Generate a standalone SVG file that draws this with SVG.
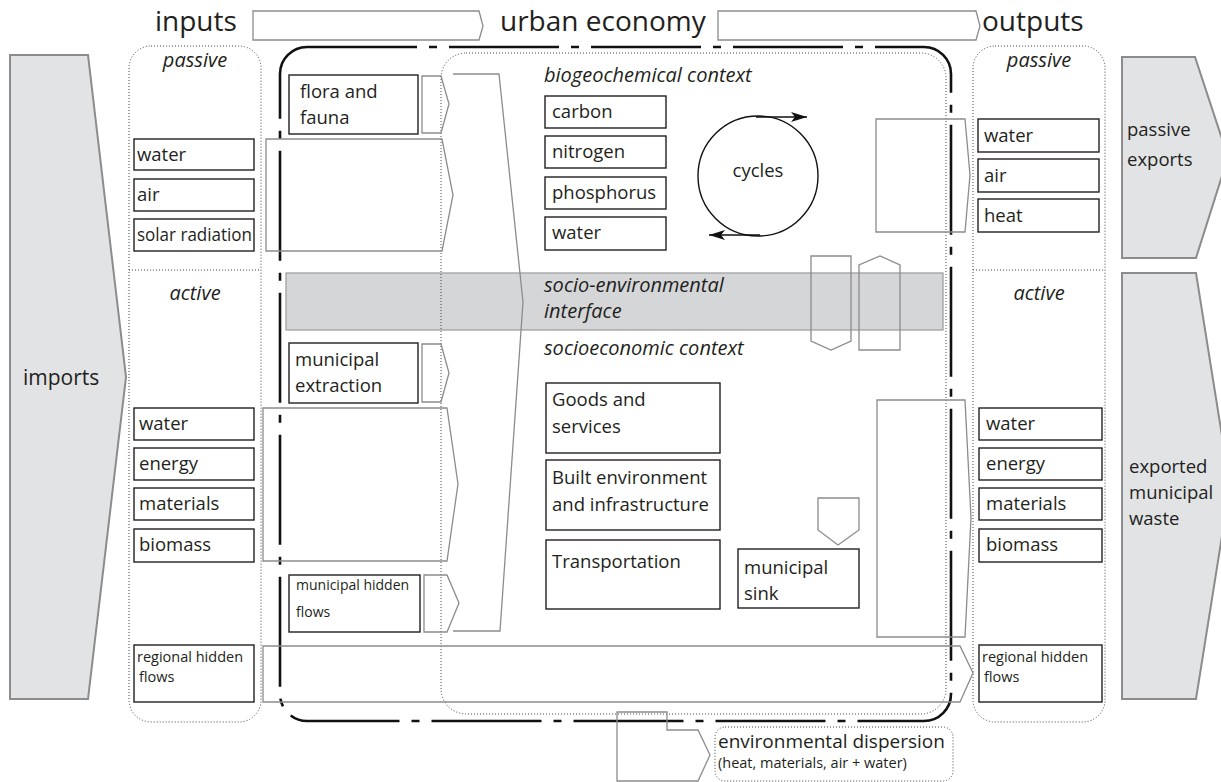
<svg xmlns="http://www.w3.org/2000/svg" width="1221" height="782" viewBox="0 0 1221 782">
<style>
.t{font-family:"Open Sans","Liberation Sans",sans-serif;fill:#231f20}
.b{font-size:18.5px}
.s{font-size:14px}
.r{font-size:14.5px}
.i{font-style:italic;font-size:20px}
.h{font-size:28px}
.box{fill:#fff;stroke:#231f20;stroke-width:1.4}
.flow{fill:none;stroke:#8c8c8c;stroke-width:1.3}
.big{fill:#e2e3e5;stroke:#8c8c8c;stroke-width:2}
.dot{fill:none;stroke:#444;stroke-width:1;stroke-dasharray:1 2}
.dd{fill:none;stroke:#111;stroke-width:2.6;stroke-dasharray:110 12 8 12}
.band{fill:#d5d6d8;stroke:#a0a0a0;stroke-width:1.3}
.cyc{fill:none;stroke:#111;stroke-width:1.4}
</style>
<defs>
<marker id="ah" viewBox="0 0 16 10" refX="16" refY="5" markerWidth="16" markerHeight="10" markerUnits="userSpaceOnUse" orient="auto">
<path d="M0,0 L16,5 L0,10 L4,5 z" fill="#111"/>
</marker>
</defs>
<rect width="1221" height="782" fill="#fff"/>

<!-- headers -->
<g id="header">
<text class="t h" x="155" y="31">inputs</text>
<polygon class="flow" points="253,11 479,11 483,26 479,40 253,40"/>
<text class="t h" x="500" y="31">urban economy</text>
<polygon class="flow" points="718,11 976,11 980,26 976,40 718,40"/>
<text class="t h" x="982" y="31">outputs</text>
</g>

<!-- big side arrows -->
<g id="imports">
<polygon class="big" points="10,55 88,55 126,377 88,699 10,699"/>
<text class="t" font-size="21" x="23" y="385">imports</text>
</g>
<g id="passive-exports">
<polygon class="big" points="1122,57 1195,57 1228,157 1196,258 1122,258"/>
<text class="t b" x="1127" y="136">passive</text>
<text class="t b" x="1127" y="166">exports</text>
</g>
<g id="exported-waste">
<polygon class="big" points="1122,273 1196,273 1230,486 1196,699 1122,699"/>
<text class="t b" x="1129" y="473">exported</text>
<text class="t b" x="1129" y="499">municipal</text>
<text class="t b" x="1129" y="525">waste</text>
</g>

<!-- interface band -->
<g id="interface">
<rect class="band" x="286" y="273" width="657" height="57"/>
<text class="t i" x="544" y="292">socio-environmental</text>
<text class="t i" x="544" y="318">interface</text>
</g>

<!-- containers -->
<g id="inputs-column">
<rect class="dot" x="129" y="46" width="132" height="676" rx="22"/>
<line class="dot" x1="129" y1="270" x2="261" y2="270"/>
<text class="t i" x="195" y="67" text-anchor="middle">passive</text>
<text class="t i" x="195" y="300" text-anchor="middle">active</text>
</g>
<g id="outputs-column">
<rect class="dot" x="973" y="46" width="132" height="676" rx="22"/>
<line class="dot" x1="973" y1="270" x2="1105" y2="270"/>
<text class="t i" x="1039" y="67" text-anchor="middle">passive</text>
<text class="t i" x="1039" y="300" text-anchor="middle">active</text>
</g>
<g id="urban-area">
<rect class="dot" x="441" y="53" width="505" height="661" rx="25"/>
<text class="t i" x="544" y="82">biogeochemical context</text>
<text class="t i" x="544" y="355">socioeconomic context</text>
</g>
<g id="urban-economy">
<rect class="dd" x="280" y="47" width="671" height="674" rx="27"/>
</g>

<!-- connectors / flows -->
<g id="connectors">
<polygon class="flow" points="422,76 441,76 449,104 441,133 422,133"/>
<polygon class="flow" points="266,139 442,139 453,195 442,251 266,251"/>
<polygon class="flow" points="422,344 441,344 449,373 441,402 422,402"/>
<polygon class="flow" points="263,408 447,408 458,484 447,561 263,561"/>
<polygon class="flow" points="424,575 447,575 459,603 447,632 424,632"/>
<polyline class="flow" points="453,74 499,74 523,302 500,631 453,631"/>
<polygon class="flow" points="263,646 960,646 973,673 960,702 263,702"/>
<polygon class="flow" points="876,119 965,119 970,175 965,232 876,232"/>
<polygon class="flow" points="877,400 965,400 971,518 965,637 877,637"/>
<polygon class="flow" points="811,256 851,256 851,341 831,350 811,341"/>
<polygon class="flow" points="859,350 900,350 900,265 880,256 859,265"/>
<polygon class="flow" points="818,498 859,498 859,530 838,545 818,530"/>
<polygon class="flow" points="617,712 667,712 667,730 698,730 710,755 698,781 617,781"/>
<line class="cyc" x1="756" y1="117" x2="807" y2="117" marker-end="url(#ah)"/>
<line class="cyc" x1="760" y1="235" x2="709" y2="235" marker-end="url(#ah)"/>
</g>

<!-- input boxes -->
<g id="in-water-p"><rect class="box" x="134" y="139" width="120" height="31"/><text class="t b" x="137" y="161">water</text></g>
<g id="in-air"><rect class="box" x="134" y="179" width="120" height="32"/><text class="t b" x="137" y="201">air</text></g>
<g id="in-solar"><rect class="box" x="134" y="219" width="120" height="32"/><text class="t b" x="137" y="241" textLength="115" lengthAdjust="spacingAndGlyphs">solar radiation</text></g>
<g id="in-water-a"><rect class="box" x="134" y="408" width="120" height="32"/><text class="t b" x="139" y="430">water</text></g>
<g id="in-energy"><rect class="box" x="134" y="448" width="120" height="32"/><text class="t b" x="139" y="470">energy</text></g>
<g id="in-materials"><rect class="box" x="134" y="488" width="120" height="32"/><text class="t b" x="139" y="510">materials</text></g>
<g id="in-biomass"><rect class="box" x="134" y="529" width="120" height="33"/><text class="t b" x="139" y="551">biomass</text></g>
<g id="in-regional"><rect class="box" x="134" y="645" width="120" height="57"/><text class="t r" x="137" y="662">regional hidden</text><text class="t r" x="139" y="682">flows</text></g>

<!-- urban economy left boxes -->
<g id="flora"><rect class="box" x="289" y="75" width="129" height="59"/><text class="t b" x="300" y="98">flora and</text><text class="t b" x="300" y="124">fauna</text></g>
<g id="mun-extraction"><rect class="box" x="289" y="343" width="129" height="60"/><text class="t b" x="295" y="366">municipal</text><text class="t b" x="295" y="392">extraction</text></g>
<g id="mun-hidden"><rect class="box" x="289" y="575" width="131" height="57"/><text class="t s" x="296" y="590">municipal hidden</text><text class="t s" x="296" y="617">flows</text></g>

<!-- biogeochemical -->
<g id="carbon"><rect class="box" x="545" y="96" width="121" height="32"/><text class="t b" x="552" y="118">carbon</text></g>
<g id="nitrogen"><rect class="box" x="545" y="136" width="121" height="32"/><text class="t b" x="552" y="158">nitrogen</text></g>
<g id="phosphorus"><rect class="box" x="545" y="177" width="121" height="32"/><text class="t b" x="552" y="199">phosphorus</text></g>
<g id="bio-water"><rect class="box" x="545" y="217" width="121" height="33"/><text class="t b" x="552" y="239">water</text></g>
<g id="cycles"><circle cx="758" cy="176" r="60" fill="none" stroke="#111" stroke-width="1.4"/><text class="t b" x="758" y="177" text-anchor="middle">cycles</text></g>

<!-- socioeconomic -->
<g id="goods"><rect class="box" x="546" y="383" width="174" height="70"/><text class="t b" x="552" y="406">Goods and</text><text class="t b" x="552" y="433">services</text></g>
<g id="built"><rect class="box" x="546" y="460" width="174" height="70"/><text class="t b" x="552" y="484">Built environment</text><text class="t b" x="552" y="511">and infrastructure</text></g>
<g id="transport"><rect class="box" x="546" y="540" width="174" height="69"/><text class="t b" x="552" y="568">Transportation</text></g>
<g id="sink"><rect class="box" x="738" y="549" width="121" height="59"/><text class="t b" x="744" y="574">municipal</text><text class="t b" x="744" y="600">sink</text></g>

<!-- output boxes -->
<g id="out-water-p"><rect class="box" x="978" y="119" width="121" height="33"/><text class="t b" x="984" y="142">water</text></g>
<g id="out-air"><rect class="box" x="978" y="159" width="121" height="33"/><text class="t b" x="984" y="182">air</text></g>
<g id="out-heat"><rect class="box" x="978" y="199" width="121" height="33"/><text class="t b" x="984" y="222">heat</text></g>
<g id="out-water-a"><rect class="box" x="979" y="408" width="123" height="32"/><text class="t b" x="986" y="430">water</text></g>
<g id="out-energy"><rect class="box" x="979" y="448" width="123" height="32"/><text class="t b" x="986" y="470">energy</text></g>
<g id="out-materials"><rect class="box" x="979" y="488" width="123" height="32"/><text class="t b" x="986" y="510">materials</text></g>
<g id="out-biomass"><rect class="box" x="979" y="529" width="123" height="33"/><text class="t b" x="986" y="551">biomass</text></g>
<g id="out-regional"><rect class="box" x="979" y="645" width="123" height="57"/><text class="t r" x="982" y="662">regional hidden</text><text class="t r" x="984" y="682">flows</text></g>

<!-- environmental dispersion -->
<g id="env-dispersion">
<rect class="dot" x="715" y="727" width="238" height="54" rx="10"/>
<text class="t" font-size="19" x="718" y="748">environmental dispersion</text>
<text class="t" font-size="14.5" x="718" y="768">(heat, materials, air + water)</text>
</g>
</svg>
